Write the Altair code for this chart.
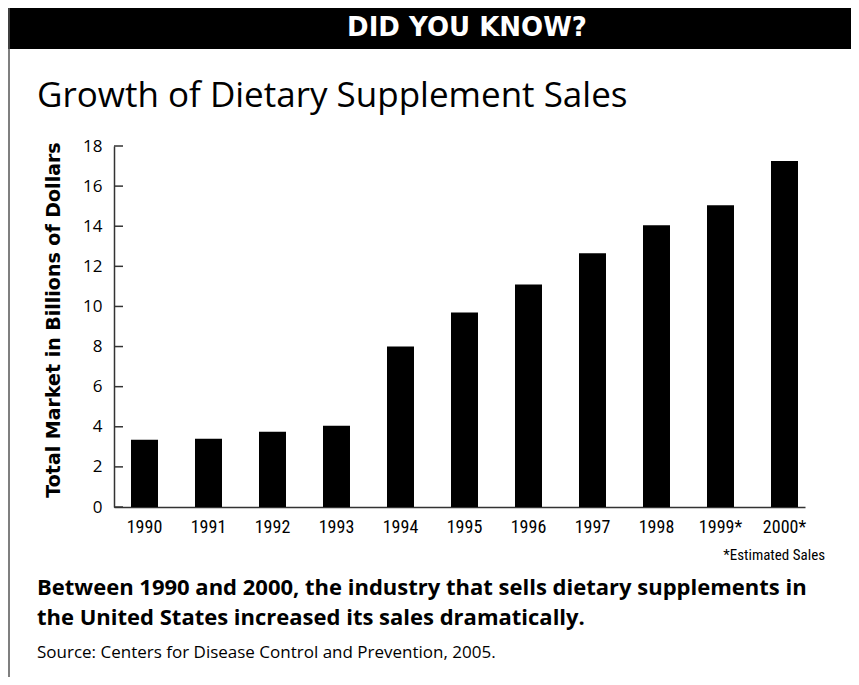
import altair as alt
import pandas as pd

# ---- data ----
years = ["1990", "1991", "1992", "1993", "1994", "1995", "1996", "1997", "1998", "1999*", "2000*"]
sales = [3.35, 3.4, 3.75, 4.05, 8.0, 9.7, 11.1, 12.65, 14.05, 15.05, 17.25]
y_ticks = [0, 2, 4, 6, 8, 10, 12, 14, 16, 18]

header_text = "DID YOU KNOW?"
title_text = "Growth of Dietary Supplement Sales"
y_title = "Total Market in Billions of Dollars"
note_text = "*Estimated Sales"
caption_lines = [
    "Between 1990 and 2000, the industry that sells dietary supplements in",
    "the United States increased its sales dramatically.",
]
source_text = "Source: Centers for Disease Control and Prevention, 2005."

df = pd.DataFrame({"year": years, "sales": sales})
ticks_df = pd.DataFrame({"sales": y_ticks})
one = alt.Data(values=[{}])

COND = "Roboto Condensed, Liberation Sans Narrow, Lato"
SANS = "Open Sans"

yscale = alt.Scale(domain=[0, 18], nice=False)
y_axis = alt.Axis(
    title=None, values=y_ticks, ticks=False, tickSize=0, grid=False,
    domainColor="#333333", domainWidth=1.5,
    labelFont=SANS, labelFontSize=17, labelPadding=12, labelColor="black",
)

bars = alt.Chart(df).mark_bar(color="black").encode(
    x=alt.X(
        "year:N",
        sort=years,
        scale=alt.Scale(paddingInner=0.578125, paddingOuter=0.1875, align=0.7083),
        axis=alt.Axis(
            title=None, labelAngle=0, tickSize=0, ticks=False,
            domainColor="#333333", domainWidth=1.5,
            labelFont=COND, labelFontSize=18, labelPadding=11, labelColor="black",
        ),
    ),
    y=alt.Y("sales:Q", scale=yscale, axis=y_axis),
)

tick_rules = alt.Chart(ticks_df).mark_rule(color="#333333", strokeWidth=1.5).encode(
    y=alt.Y("sales:Q", scale=yscale, axis=y_axis),
    x=alt.value(0),
    x2=alt.value(9),
)

header_bar = alt.Chart(one).mark_rect(color="black").encode(
    x=alt.value(-110), x2=alt.value(750), y=alt.value(-140), y2=alt.value(-97)
)
left_border = alt.Chart(one).mark_rule(color="#555555", strokeWidth=1.5).encode(
    x=alt.value(-105), y=alt.value(-140), y2=alt.value(540)
)
header = alt.Chart(one).mark_text(
    align="center", baseline="middle", font="DejaVu Sans", fontSize=26,
    fontWeight="bold", color="white",
).encode(x=alt.value(353), y=alt.value(-118), text=alt.value(header_text))

title = alt.Chart(one).mark_text(
    align="left", baseline="alphabetic", font=SANS, fontSize=35, color="black",
).encode(x=alt.value(-77), y=alt.value(-39), text=alt.value(title_text))

ytitle = alt.Chart(one).mark_text(
    align="center", baseline="middle", angle=270, font="DejaVu Sans", fontSize=19,
    fontWeight="bold", color="black",
).encode(x=alt.value(-60), y=alt.value(174), text=alt.value(y_title))

note = alt.Chart(one).mark_text(
    align="right", baseline="middle", font=COND, fontSize=15, color="black",
).encode(x=alt.value(711), y=alt.value(409), text=alt.value(note_text))

caption1 = alt.Chart(one).mark_text(
    align="left", baseline="middle", font=SANS, fontSize=22, fontWeight="bold",
    color="black",
).encode(x=alt.value(-77), y=alt.value(442), text=alt.value(caption_lines[0]))

caption2 = alt.Chart(one).mark_text(
    align="left", baseline="middle", font=SANS, fontSize=22, fontWeight="bold",
    color="black",
).encode(x=alt.value(-77), y=alt.value(472), text=alt.value(caption_lines[1]))

source = alt.Chart(one).mark_text(
    align="left", baseline="middle", font=SANS, fontSize=17, color="black",
).encode(x=alt.value(-77), y=alt.value(507), text=alt.value(source_text))

chart = alt.layer(
    header_bar, left_border, header, title, ytitle, bars, tick_rules, note,
    caption1, caption2, source
).properties(
    width=691,
    height=361,
    autosize=alt.AutoSizeParams(type="none"),
    padding={"left": 106, "top": 138, "right": 46, "bottom": 170},
).configure_view(stroke=None)

chart.save("out.html", embed_options={"renderer": "svg", "actions": False})
